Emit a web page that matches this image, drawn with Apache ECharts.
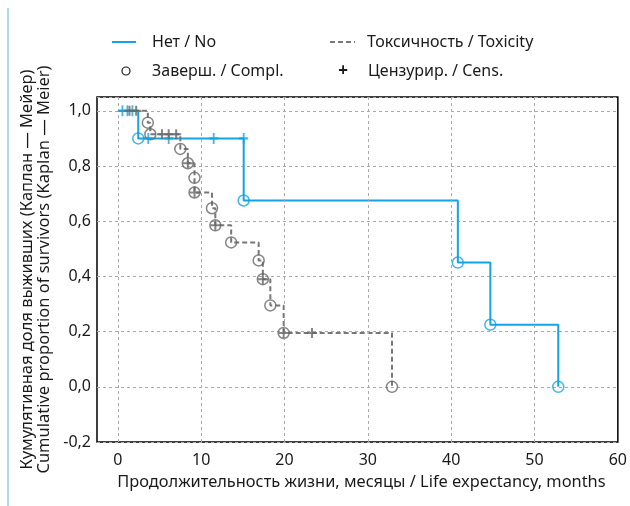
<!DOCTYPE html>
<html>
<head>
<meta charset="utf-8">
<script src="https://cdn.jsdelivr.net/npm/echarts@6/dist/echarts.min.js"></script>
<style>
html, body { margin: 0; padding: 0; background: #fff; }
#chart { width: 630px; height: 506px; }
</style>
</head>
<body>
<div id="chart"></div>
<script>
// survival curves (months, proportion)
const noSteps = [[0.5, 1], [2.45, 0.9], [15.1, 0.675], [40.8, 0.45], [44.7, 0.225], [52.85, 0]];
const toxSteps = [[0, 1], [3.6, 0.957], [3.9, 0.915], [7.5, 0.862], [8.4, 0.81], [9.2, 0.757], [9.2, 0.704],
  [11.3, 0.647], [11.7, 0.585], [13.6, 0.523], [16.9, 0.458], [17.4, 0.39], [18.3, 0.295], [19.9, 0.195], [32.9, 0]];
// censored cases
const noCens = [[0.55, 1], [1.15, 1], [1.75, 1], [3.65, 0.9], [6.1, 0.9], [11.5, 0.9], [15.1, 0.9]];
const toxCens = [[1.4, 1], [2.2, 1], [5.3, 0.915], [6.1, 0.915], [7.0, 0.915], [8.4, 0.81], [9.2, 0.704],
  [11.7, 0.585], [17.4, 0.39], [19.9, 0.195], [23.3, 0.195]];
const xTicks = [0, 10, 20, 30, 40, 50, 60];

const blue = '#12a4e4';
const grey = '#777777';
const font = '"Noto Sans", sans-serif';
const plus = 'path://M4,0H6V4H10V6H6V10H4V6H0V4H4Z';
const gridStyle = { color: '#aaa', type: [3, 3], width: 1 };

const chart = echarts.init(document.getElementById('chart'));

const option = {
  animation: false,
  textStyle: { fontFamily: font },
  grid: { left: 97, right: 7, top: 97, bottom: 64, show: true, borderColor: '#000', borderWidth: 1.5 },
  xAxis: {
    type: 'value', min: -2.5, max: 60,
    name: 'Продолжительность жизни, месяцы / Life expectancy, months',
    nameLocation: 'middle', nameGap: 32,
    nameTextStyle: { fontSize: 16.4, color: '#1a1a1a', fontFamily: font, padding: [0, 0, 0, 8] },
    axisLine: { show: false },
    axisTick: { show: false, customValues: xTicks },
    axisLabel: { customValues: xTicks, fontSize: 16, color: '#1a1a1a', margin: 10 },
    splitLine: { show: false }
  },
  yAxis: {
    type: 'value', min: -0.2, max: 1.05, interval: 0.2,
    name: 'Кумулятивная доля выживших (Каплан — Мейер)\nCumulative proportion of survivors (Kaplan — Meier)',
    nameLocation: 'middle', nameGap: 38, nameRotate: 90,
    nameTextStyle: { fontSize: 16.5, color: '#1a1a1a', lineHeight: 17, fontFamily: font },
    axisLine: { show: false },
    axisTick: { show: false },
    axisLabel: {
      fontSize: 16, color: '#1a1a1a', margin: 6, showMaxLabel: false,
      formatter: v => v.toFixed(1).replace('.', ',')
    },
    splitLine: { show: true, lineStyle: gridStyle }
  },
  graphic: [
    { type: 'line', shape: { x1: 8, y1: 8, x2: 8, y2: 506 }, style: { stroke: '#5ab4e5', lineWidth: 1 } },
    { type: 'line', shape: { x1: 112, y1: 42, x2: 136, y2: 42 }, style: { stroke: blue, lineWidth: 2 } },
    { type: 'text', x: 152, y: 42, style: { text: 'Нет / No', font: '16px ' + font, fill: '#1a1a1a', verticalAlign: 'middle' } },
    { type: 'line', shape: { x1: 330, y1: 42, x2: 355, y2: 42 }, style: { stroke: grey, lineWidth: 2, lineDash: [5, 3] } },
    { type: 'text', x: 367, y: 42, style: { text: 'Токсичность / Toxicity', font: '16px ' + font, fill: '#1a1a1a', verticalAlign: 'middle' } },
    { type: 'circle', shape: { cx: 126, cy: 71, r: 4 }, style: { fill: 'none', stroke: '#1a1a1a', lineWidth: 1.2 } },
    { type: 'text', x: 152, y: 71, style: { text: 'Заверш. / Compl.', font: '16px ' + font, fill: '#1a1a1a', verticalAlign: 'middle' } },
    { type: 'text', x: 343, y: 71, style: { text: '+', font: 'bold 17px ' + font, fill: '#1a1a1a', align: 'center', verticalAlign: 'middle' } },
    { type: 'text', x: 368, y: 71, style: { text: 'Цензурир. / Cens.', font: '16px ' + font, fill: '#1a1a1a', verticalAlign: 'middle' } }
  ],
  series: [
    {
      // vertical grid lines at the labelled months
      type: 'line', data: [], z: 1,
      markLine: {
        silent: true, symbol: ['none', 'none'], label: { show: false },
        lineStyle: gridStyle,
        data: xTicks.filter(v => v < 60).map(v => ({ xAxis: v }))
      }
    },
    {
      name: 'Нет / No', type: 'line', step: 'end', data: noSteps, symbol: 'none',
      lineStyle: { color: blue, width: 2 }, z: 2
    },
    {
      name: 'Токсичность / Toxicity', type: 'line', step: 'end', data: toxSteps, symbol: 'none',
      lineStyle: { color: grey, width: 2, type: [5, 3] }, z: 3
    },
    {
      type: 'scatter', data: noSteps.slice(1), symbol: 'circle', symbolSize: 11,
      itemStyle: { color: 'rgba(0,0,0,0)', borderColor: blue, borderWidth: 1.5 }, z: 4
    },
    {
      type: 'scatter', data: toxSteps.slice(1), symbol: 'circle', symbolSize: 11,
      itemStyle: { color: 'rgba(0,0,0,0)', borderColor: '#666', borderWidth: 1.5 }, z: 4
    },
    {
      type: 'scatter', data: noCens, symbol: plus, symbolSize: [9, 11],
      itemStyle: { color: blue }, z: 5
    },
    {
      type: 'scatter', data: toxCens, symbol: plus, symbolSize: [10, 10],
      itemStyle: { color: '#666' }, z: 5
    }
  ]
};

chart.setOption(option);
</script>
</body>
</html>
